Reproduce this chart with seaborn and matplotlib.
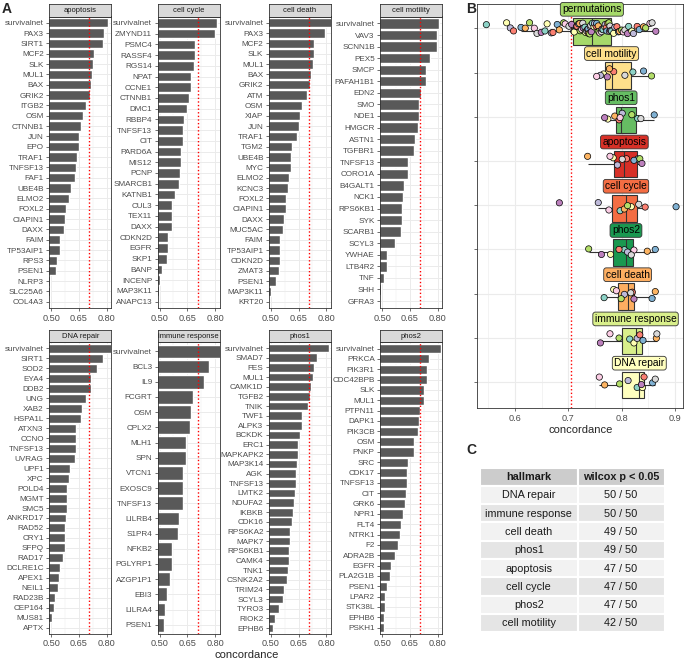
import numpy as np
import pandas as pd
import matplotlib.pyplot as plt
import matplotlib.transforms as mtransforms
from matplotlib.patches import Rectangle
import seaborn as sns

sns.set_theme(style="white")
plt.rcParams["font.family"] = ["Liberation Sans", "DejaVu Sans"]

# ---- panel A: top genes per hallmark ----
apoptosis_genes = ["survivalnet", "PAX3", "SIRT1", "MCF2", "SLK", "MUL1", "BAX", "GRIK2", "ITGB2", "OSM",
                   "CTNNB1", "JUN", "EPO", "TRAF1", "TNFSF13", "FAF1", "UBE4B", "ELMO2", "FOXL2", "CIAPIN1",
                   "DAXX", "FAIM", "TP53AIP1", "RPS3", "PSEN1", "NLRP3", "SLC25A6", "COL4A3"]
apoptosis_conc = [0.809, 0.787, 0.778, 0.731, 0.728, 0.722, 0.713, 0.710, 0.688, 0.670,
                  0.661, 0.652, 0.649, 0.638, 0.632, 0.627, 0.609, 0.596, 0.578, 0.576,
                  0.569, 0.549, 0.548, 0.530, 0.528, 0.495, 0.492, 0.488]

cell_cycle_genes = ["survivalnet", "ZMYND11", "PSMC4", "RASSF4", "RGS14", "NPAT", "CCNE1", "CTNNB1", "DMC1",
                    "RBBP4", "TNFSF13", "CIT", "PARD6A", "MIS12", "PCNP", "SMARCB1", "KATNB1", "CUL3", "TEX11",
                    "DAXX", "CDKN2D", "EGFR", "SKP1", "BANP", "INCENP", "MAP3K11", "ANAPC13"]
cell_cycle_conc = [0.809, 0.800, 0.692, 0.692, 0.685, 0.672, 0.672, 0.661, 0.649,
                   0.632, 0.629, 0.625, 0.618, 0.614, 0.613, 0.607, 0.585, 0.569, 0.569,
                   0.569, 0.546, 0.544, 0.539, 0.515, 0.504, 0.499, 0.492]

cell_death_genes = ["survivalnet", "PAX3", "MCF2", "SLK", "MUL1", "BAX", "GRIK2", "ATM", "OSM", "XIAP", "JUN",
                    "TRAF1", "TGM2", "UBE4B", "MYC", "ELMO2", "KCNC3", "FOXL2", "CIAPIN1", "DAXX", "MUC5AC",
                    "FAIM", "TP53AIP1", "CDKN2D", "ZMAT3", "PSEN1", "MAP3K11", "KRT20"]
cell_death_conc = [0.830, 0.793, 0.735, 0.731, 0.726, 0.715, 0.712, 0.695, 0.670, 0.656, 0.654,
                   0.640, 0.614, 0.611, 0.611, 0.598, 0.593, 0.582, 0.580, 0.571, 0.564,
                   0.551, 0.549, 0.549, 0.542, 0.528, 0.503, 0.489]

cell_motility_genes = ["survivalnet", "VAV3", "SCNN1B", "PEX5", "SMCP", "PAFAH1B1", "EDN2", "SMO", "NDE1",
                       "HMGCR", "ASTN1", "TGFBR1", "TNFSF13", "CORO1A", "B4GALT1", "NCK1", "RPS6KB1", "SYK",
                       "SCARB1", "SCYL3", "YWHAE", "LTB4R2", "TNF", "SHH", "GFRA3"]
cell_motility_conc = [0.809, 0.796, 0.796, 0.757, 0.737, 0.735, 0.710, 0.701, 0.697,
                      0.695, 0.679, 0.672, 0.638, 0.638, 0.616, 0.614, 0.605, 0.605,
                      0.600, 0.569, 0.524, 0.524, 0.510, 0.492, 0.489]

dna_repair_genes = ["survivalnet", "SIRT1", "SOD2", "EYA4", "DDB2", "UNG", "XAB2", "HSPA1L", "ATXN3", "CCNO",
                    "TNFSF13", "UVRAG", "UPF1", "XPC", "POLD4", "MGMT", "SMC5", "ANKRD17", "RAD52", "CRY1",
                    "SFPQ", "RAD17", "DCLRE1C", "APEX1", "NEIL1", "RAD23B", "CEP164", "MUS81", "APTX"]
dna_repair_conc = [0.840, 0.780, 0.749, 0.713, 0.713, 0.690, 0.667, 0.661, 0.636, 0.634,
                   0.632, 0.631, 0.600, 0.595, 0.587, 0.587, 0.585, 0.580, 0.575, 0.575,
                   0.573, 0.564, 0.549, 0.542, 0.535, 0.522, 0.515, 0.504, 0.492]

immune_genes = ["survivalnet", "BCL3", "IL9", "FCGRT", "OSM", "CPLX2", "MLH1", "SPN", "VTCN1", "EXOSC9",
                "TNFSF13", "LILRB4", "S1PR4", "NFKB2", "PGLYRP1", "AZGP1P1", "EBI3", "LILRA4", "PSEN1"]
immune_conc = [0.840, 0.769, 0.742, 0.683, 0.668, 0.663, 0.645, 0.643, 0.629, 0.627,
               0.627, 0.607, 0.600, 0.569, 0.567, 0.558, 0.540, 0.530, 0.524]

phos1_genes = ["survivalnet", "SMAD7", "FES", "MUL1", "CAMK1D", "TGFB2", "TNIK", "TWF1", "ALPK3", "BCKDK",
               "ERC1", "MAPKAPK2", "MAP3K14", "AGK", "TNFSF13", "LMTK2", "NDUFA2", "IKBKB", "CDK16", "RPS6KA2",
               "MAPK7", "RPS6KB1", "CAMK4", "TNK1", "CSNK2A2", "TRIM24", "SCYL3", "TYRO3", "RIOK2", "EPHB6"]
phos1_conc = [0.816, 0.748, 0.731, 0.726, 0.717, 0.712, 0.701, 0.667, 0.667, 0.659,
              0.647, 0.645, 0.640, 0.638, 0.634, 0.631, 0.627, 0.618, 0.614, 0.605,
              0.604, 0.600, 0.598, 0.593, 0.589, 0.573, 0.566, 0.546, 0.524, 0.512]

phos2_genes = ["survivalnet", "PRKCA", "PIK3R1", "CDC42BPB", "SLK", "MUL1", "PTPN11", "DAPK1", "PIK3CB", "OSM",
               "PNKP", "SRC", "CDK17", "TNFSF13", "CIT", "GRK6", "NPR1", "FLT4", "NTRK1", "F2",
               "ADRA2B", "EGFR", "PLA2G1B", "PSEN1", "LPAR2", "STK38L", "EPHB6", "PSKH1"]
phos2_conc = [0.816, 0.751, 0.744, 0.742, 0.726, 0.724, 0.704, 0.699, 0.694, 0.670,
              0.670, 0.641, 0.634, 0.632, 0.627, 0.622, 0.614, 0.600, 0.598, 0.584,
              0.569, 0.548, 0.544, 0.528, 0.515, 0.515, 0.510, 0.508]

ref_line = 0.706

# ---- panel B: concordance per hallmark vs permutations ----
box_order = ["permutations", "cell motility", "phos1", "apoptosis", "cell cycle",
             "phos2", "cell death", "immune response", "DNA repair"]
cohorts = ["c01", "c02", "c03", "c04", "c05", "c06", "c07", "c08", "c09", "c10"]
cell_motility_scores = [0.821, 0.766, 0.760, 0.785, 0.841, 0.777, 0.856, 0.753, 0.806, 0.773]
phos1_scores = [0.830, 0.774, 0.801, 0.795, 0.861, 0.787, 0.819, 0.797, 0.836, 0.768]
apoptosis_scores = [0.830, 0.784, 0.792, 0.809, 0.823, 0.736, 0.834, 0.778, 0.801, 0.838]
cell_cycle_scores = [0.797, 0.818, 0.756, 0.844, 0.902, 0.805, 0.811, 0.776, 0.832, 0.683]
phos2_scores = [0.805, 0.779, 0.811, 0.795, 0.863, 0.848, 0.738, 0.823, 0.818, 0.762]
cell_death_scores = [0.767, 0.785, 0.805, 0.820, 0.857, 0.863, 0.799, 0.790, 0.817, 0.823]
immune_scores = [0.815, 0.823, 0.829, 0.834, 0.840, 0.865, 0.795, 0.778, 0.866, 0.760]
dna_repair_scores = [0.829, 0.839, 0.812, 0.842, 0.858, 0.768, 0.796, 0.758, 0.863, 0.837]
perm_scores = [0.546, 0.584, 0.591, 0.597, 0.611, 0.619, 0.627, 0.636, 0.641, 0.649,
               0.656, 0.660, 0.668, 0.671, 0.679, 0.683, 0.691, 0.694, 0.701, 0.706,
               0.710, 0.711, 0.715, 0.716, 0.719, 0.721, 0.722, 0.725, 0.727, 0.728,
               0.731, 0.732, 0.734, 0.736, 0.737, 0.738, 0.740, 0.741, 0.742, 0.743,
               0.745, 0.748, 0.749, 0.752, 0.753, 0.756, 0.757, 0.759, 0.762, 0.763,
               0.765, 0.768, 0.769, 0.771, 0.772, 0.774, 0.776, 0.777, 0.778, 0.779,
               0.781, 0.785, 0.787, 0.791, 0.794, 0.796, 0.800, 0.803, 0.806, 0.811,
               0.813, 0.819, 0.822, 0.829, 0.833, 0.841, 0.845, 0.853, 0.857, 0.864]
perm_ref_line = 0.705

# ---- panel C: table ----
table_hallmarks = ["DNA repair", "immune response", "cell death", "phos1",
                   "apoptosis", "cell cycle", "phos2", "cell motility"]
table_sig = [50, 50, 49, 49, 47, 47, 47, 42]
n_tests = 50

# RdYlGn assigned alphabetically, like ggplot does
hallmark_colors = {
    "apoptosis": "#d73027", "cell cycle": "#f46d43", "cell death": "#fdae61",
    "cell motility": "#fee08b", "DNA repair": "#ffffbf", "immune response": "#d9ef8b",
    "permutations": "#a6d96a", "phos1": "#66bd63", "phos2": "#1a9850",
}
cohort_colors = dict(zip(cohorts, ["#8dd3c7", "#ffffb3", "#bebada", "#fb8072", "#80b1d3",
                                   "#fdb462", "#b3de69", "#fccde5", "#d9d9d9", "#bc80bd"]))

W, H = 685, 661
fig = plt.figure(figsize=(W / 100, H / 100), dpi=100)


def px_axes(left, top, width, height):
    return fig.add_axes([left / W, 1 - (top + height) / H, width / W, height / H])


def style_frame(ax):
    for s in ax.spines.values():
        s.set_color("#333333")
        s.set_linewidth(0.6)
    ax.tick_params(axis="both", which="major", bottom=True, left=True, length=2.5, width=0.5,
                   color="#333333", labelcolor="#4d4d4d", pad=1.5)
    ax.tick_params(axis="both", which="minor", bottom=False, left=False)


facets = [
    ("apoptosis", apoptosis_genes, apoptosis_conc),
    ("cell cycle", cell_cycle_genes, cell_cycle_conc),
    ("cell death", cell_death_genes, cell_death_conc),
    ("cell motility", cell_motility_genes, cell_motility_conc),
    ("DNA repair", dna_repair_genes, dna_repair_conc),
    ("immune response", immune_genes, immune_conc),
    ("phos1", phos1_genes, phos1_conc),
    ("phos2", phos2_genes, phos2_conc),
]
col_left = [49.3, 157.7, 269.0, 380.3]
row_top = [16.5, 342.3]
panel_w, panel_h, strip_h = 62, 291.5, 12.5

for k, (name, genes, conc) in enumerate(facets):
    r, c = divmod(k, 4)
    ax = px_axes(col_left[c], row_top[r], panel_w, panel_h)
    sns.barplot(x=conc, y=genes, orient="h", color="#595959", saturation=1, width=0.9, ax=ax)
    ax.set_xlim(0.49, 0.825)
    ax.set_ylim(len(genes) - 0.4, -0.6)
    ax.set_xticks([0.5, 0.65, 0.8])
    ax.set_xticklabels(["0.50", "0.65", "0.80"])
    ax.set_xticks([0.575, 0.725], minor=True)
    ax.set_axisbelow(True)
    ax.grid(which="major", color="#ebebeb", lw=0.7)
    ax.grid(which="minor", axis="x", color="#ebebeb", lw=0.35)
    ax.axvline(ref_line, color="red", ls=(0, (1, 1.6)), lw=1.0, zorder=3)
    ax.set_xlabel("")
    ax.set_ylabel("")
    style_frame(ax)
    ax.tick_params(axis="y", labelsize=5.9)
    ax.tick_params(axis="x", labelsize=6.6)

    sax = px_axes(col_left[c], row_top[r] - strip_h, panel_w, strip_h)
    sax.set_facecolor("#d9d9d9")
    sax.set_xticks([])
    sax.set_yticks([])
    for s in sax.spines.values():
        s.set_color("#333333")
        s.set_linewidth(0.6)
    sax.text(0.5, 0.5, name, ha="center", va="center", fontsize=5.5, color="#1a1a1a",
             transform=sax.transAxes)

fig.text(247 / W, 1 - 655 / H, "concordance", ha="center", va="center", fontsize=8)

# ---- panel B ----
score_lists = {
    "cell motility": cell_motility_scores, "phos1": phos1_scores, "apoptosis": apoptosis_scores,
    "cell cycle": cell_cycle_scores, "phos2": phos2_scores, "cell death": cell_death_scores,
    "immune response": immune_scores, "DNA repair": dna_repair_scores,
}
rows = []
for h, vals in score_lists.items():
    rows += [{"hallmark": h, "cohort": co, "concordance": v} for co, v in zip(cohorts, vals)]
for i, v in enumerate(perm_scores):
    rows.append({"hallmark": "permutations", "cohort": cohorts[i % len(cohorts)], "concordance": v})
scores = pd.DataFrame(rows)

bx = px_axes(477.3, 4, 206, 404.3)
bx.axvline(perm_ref_line, color="red", ls=(0, (1, 1.6)), lw=1.0, zorder=1.5)
n_p, n_l = len(bx.patches), len(bx.lines)
sns.boxplot(data=scores, x="concordance", y="hallmark", order=box_order, hue="hallmark",
            hue_order=box_order, palette=hallmark_colors, width=0.6, saturation=1,
            linewidth=0.8, linecolor="#333333", showfliers=False, showcaps=False,
            legend=False, ax=bx)
# ggplot puts the boxes a touch below the tick
shift = mtransforms.ScaledTranslation(0, -3 / 100, fig.dpi_scale_trans)
for art in list(bx.patches[n_p:]) + list(bx.lines[n_l:]):
    art.set_transform(art.get_transform() + shift)

np.random.seed(11)
sns.stripplot(data=scores, x="concordance", y="hallmark", order=box_order, hue="cohort",
              palette=cohort_colors, jitter=0.13, size=4.5, linewidth=0.5, edgecolor="black",
              legend=False, ax=bx, zorder=4)

for i, h in enumerate(box_order):
    med = scores.loc[scores["hallmark"] == h, "concordance"].median()
    bx.text(med, i - 0.43, h, ha="center", va="center", fontsize=7.4, color="black", zorder=6,
            bbox=dict(boxstyle="round,pad=0.18,rounding_size=0.25",
                      fc=hallmark_colors[h], ec="#333333", lw=0.6))

bx.set_xlim(0.529, 0.9156)
bx.set_ylim(len(box_order) - 0.41, -0.55)
bx.set_xticks([0.6, 0.7, 0.8, 0.9])
bx.set_xticks([0.55, 0.65, 0.75, 0.85], minor=True)
bx.set_yticks(range(len(box_order)))
bx.set_yticklabels([])
bx.set_axisbelow(True)
bx.grid(which="major", color="#ebebeb", lw=0.8)
bx.grid(which="minor", axis="x", color="#ebebeb", lw=0.4)
bx.set_ylabel("")
bx.set_xlabel("concordance", fontsize=8, labelpad=1.5)
style_frame(bx)
bx.tick_params(axis="x", labelsize=6.6)

# ---- panel C ----
tax = px_axes(480, 467.5, 184.5, 18.3 * 9)
tax.set_xlim(0, 184.5)
tax.set_ylim(9, 0)
tax.axis("off")
col_w = [97.5, 87.0]
header = ["hallmark", "wilcox p < 0.05"]
body = [[h, f"{s} / {n_tests}"] for h, s in zip(table_hallmarks, table_sig)]
for r, cells in enumerate([header] + body):
    if r == 0:
        fill = "#cccccc"
    else:
        fill = "#f2f2f2" if (r - 1) % 2 == 0 else "#e5e5e5"
    x0 = 0
    for cw, txt in zip(col_w, cells):
        tax.add_patch(Rectangle((x0, r), cw, 1, fc=fill, ec="white", lw=1.5))
        tax.text(x0 + cw / 2, r + 0.52, txt, ha="center", va="center", fontsize=7.8,
                 color="#1a1a1a", weight="bold" if r == 0 else "normal")
        x0 += cw

for letter, (x, y) in zip("ABC", [(2, 9), (466, 9), (466, 450)]):
    fig.text(x / W, 1 - y / H, letter, fontsize=10, weight="bold", va="center", ha="left")

fig.savefig("out.png", dpi=100)
